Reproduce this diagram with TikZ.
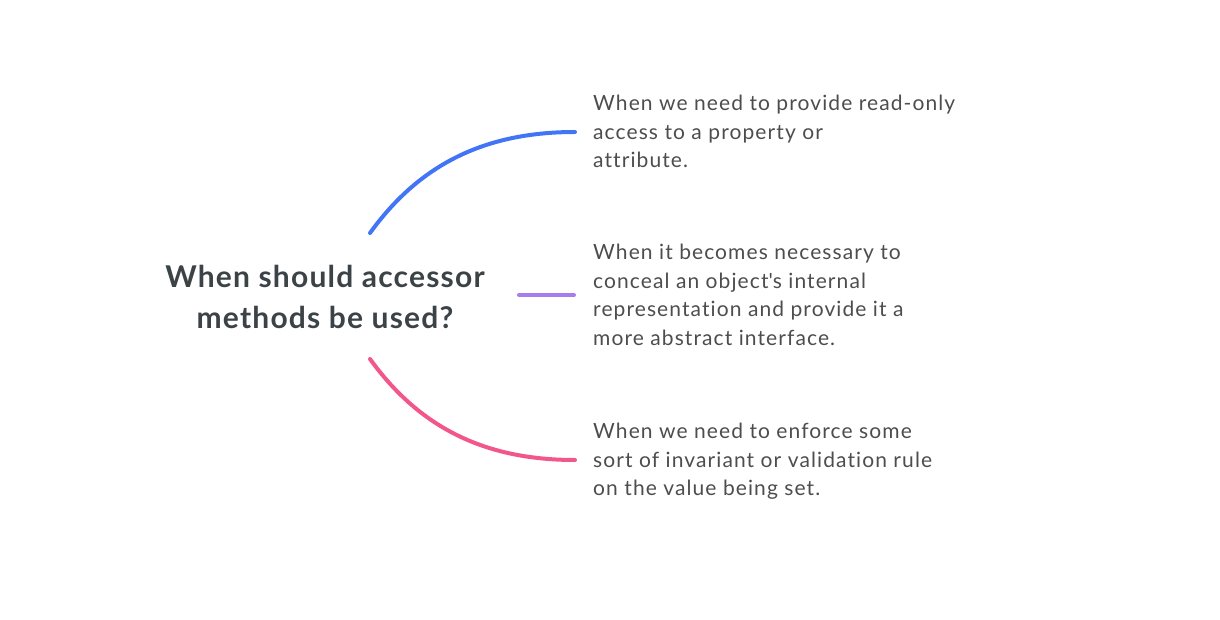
\documentclass[tikz,border=0pt]{standalone}
\usepackage{fontspec}
\setmainfont{Lato}
\newfontfamily\leaffont[LetterSpace=5.2,Ligatures={NoCommon,NoRare,NoDiscretionary}]{Lato}
\newfontfamily\titlefont[LetterSpace=4,Ligatures={NoCommon}]{Lato}
\definecolor{cblue}{HTML}{4274F6}
\definecolor{cpurple}{HTML}{A67CEF}
\definecolor{cpink}{HTML}{F2578A}
\definecolor{ctext}{HTML}{4D4D4D}
\definecolor{ctitle}{HTML}{3C4347}
\begin{document}
\begin{tikzpicture}[x=1pt,y=-1pt,
  branch/.style={line width=4pt,line cap=round},
  leaf/.style={anchor=north west,inner sep=0pt,align=left,text=ctext,font=\leaffont\fontsize{21}{28.6}\selectfont},
  titlebox/.style={inner sep=0pt,align=center,text=ctitle,font=\titlefont\bfseries\fontsize{30}{41}\selectfont}]
\useasboundingbox (0,0) rectangle (1220,620);
\node[titlebox] (t) at (325,297) {When should accessor\\methods be used?};
\coordinate (b1s) at (370,233);
\coordinate (b1e) at (575,132);
\coordinate (b2s) at (519,295);
\coordinate (b2e) at (574,295);
\coordinate (b3s) at (370,359);
\coordinate (b3e) at (575,460);
\node[leaf] (a) at (593,95) {When we need to provide read-only\\access to a property or\\attribute.};
\node[leaf] (b) at (593,244) {When it becomes necessary to\\conceal an object\textquotesingle s internal\\representation and provide it a\\more abstract interface.};
\node[leaf] (c) at (593,423) {When we need to enforce some\\sort of invariant or validation rule\\on the value being set.};
\draw[branch,cblue] (b1s) .. controls (417,168) and (480,132) .. (b1e);
\draw[branch,cpurple] (b2s) -- (b2e);
\draw[branch,cpink] (b3s) .. controls (417,424) and (480,460) .. (b3e);
\end{tikzpicture}
\end{document}
